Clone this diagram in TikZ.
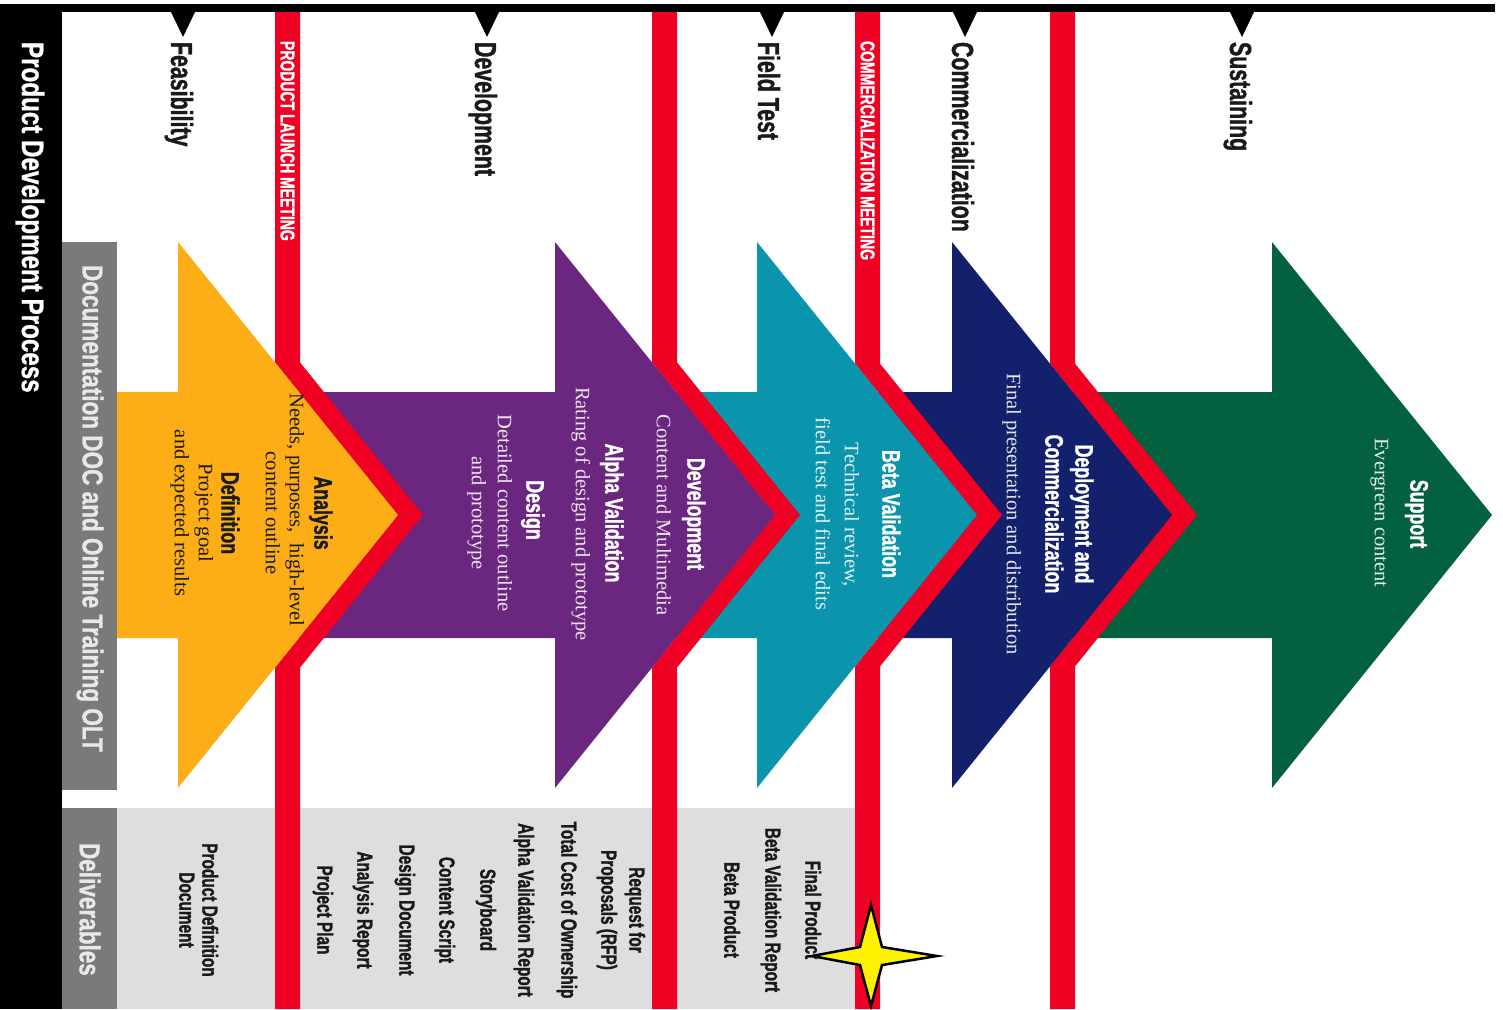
\documentclass[tikz,border=0pt]{standalone}
\usepackage{fontspec}
\setmainfont{Liberation Serif}
\newfontfamily\condA{Liberation Sans}[FakeStretch=0.7, FakeBold=1.2]
\newfontfamily\condB{Liberation Sans}[FakeStretch=0.78, FakeBold=1]
\definecolor{cyel}{HTML}{FDAE17}
\definecolor{cpur}{HTML}{6B267F}
\definecolor{ctea}{HTML}{0A95AD}
\definecolor{cnav}{HTML}{13206B}
\definecolor{cgre}{HTML}{046140}
\definecolor{cred}{HTML}{F00022}
\definecolor{cgry}{HTML}{7A7A7A}
\definecolor{cpan}{HTML}{DEDEDE}
\definecolor{cink}{HTML}{1A1A1A}
% arrow: colour, body start x, head base x
\newcommand\chevarrow[3]{%
  \fill[#1] (#2,392) -- (#3,392) -- (#3,242) -- ++(220,273) -- (#3,788) -- (#3,638) -- (#2,638) -- cycle;}
% red meeting band: left x, tip x of the arrow to its left
\newcommand\redband[2]{%
  \pgfmathsetmacro\rbA{515-(#2-#1)/220*273}%
  \pgfmathsetmacro\rbB{515+(#2-#1)/220*273}%
  \fill[cred] (#1,12) -- (#1,\rbA) -- (#2,515) -- (#1,\rbB) -- (#1,1009) -- ({#1+25},1009) -- ({#1+25},\rbB) -- ({#2+25},515) -- ({#1+25},\rbA) -- ({#1+25},12) -- cycle;}
\newcommand\phasetri[1]{%
  \fill[black] ({#1-12.5},11) -- ({#1+12.5},11) -- (#1,37) -- cycle;}
\begin{document}
\begin{tikzpicture}[x=1pt,y=-1pt,
  mrot/.style={rotate=-90, inner sep=0pt, outer sep=0pt},
  mtitle/.style={mrot, anchor=west, text=white, font=\condB\bfseries\fontsize{31}{36}\selectfont},
  mbarlbl/.style={mrot, anchor=west, text=black!9, font=\condB\bfseries\fontsize{28.9}{34}\selectfont},
  mphase/.style={mrot, anchor=base west, text=cink, font=\condA\bfseries\fontsize{30.5}{35}\selectfont},
  mmeet/.style={mrot, anchor=west, text=white, font=\condA\bfseries\fontsize{20}{24}\selectfont},
  mhead/.style={mrot, font=\condA\bfseries\fontsize{25.5}{30}\selectfont, text height=19pt, text depth=5.5pt},
  mdesc/.style={mrot, font=\fontsize{20.5}{24}\selectfont, text height=15pt, text depth=4.5pt},
  mdeliv/.style={mrot, text=cink, font=\condA\bfseries\fontsize{22}{26}\selectfont, text height=16pt, text depth=4.5pt},
  mstar/.style={fill=yellow, draw=black, line width=2.5pt, line join=miter}
]
\useasboundingbox (0,0) rectangle (1503,1009);
\fill[white] (0,0) rectangle (1503,1009);
% deliverables panel
\fill[cpan] (117,808) rectangle (855,1009);
% arrows and meeting bands, right to left
\chevarrow{cgre}{952}{1272}
\redband{1050}{1172}
\chevarrow{cnav}{757}{952}
\redband{855}{977}
\chevarrow{ctea}{555}{757}
\redband{652}{775}
\chevarrow{cpur}{178}{555}
\redband{275}{398}
\chevarrow{cyel}{117}{178}
% grey side bars
\fill[cgry] (62,242) rectangle (117,790);
\fill[cgry] (62,808) rectangle (117,1009);
% black frame
\fill[black] (0,4) rectangle (62,1009);
\fill[black] (0,4) rectangle (1495,12);
% phase markers
\phasetri{183}
\phasetri{487}
\phasetri{772}
\phasetri{965}
\phasetri{1242}
% side texts
\node[mtitle] (title) at (30,42) {Product Development Process};
\node[mbarlbl] (doclbl) at (90,265) {Documentation DOC and Online Training OLT};
\node[mbarlbl] (dellbl) at (90,843) {Deliverables};
% phase labels
\node[mphase] (pfeas) at (171,42) {Feasibility};
\node[mphase] (pdev) at (475,42) {Development};
\node[mphase] (pfield) at (758,42) {Field Test};
\node[mphase] (pcomm) at (952,42) {Commercialization};
\node[mphase] (psust) at (1230,42) {Sustaining};
% meeting labels
\node[mmeet] (mlaunch) at (287.5,41) {PRODUCT LAUNCH MEETING};
\node[mmeet] (mcomm) at (867.5,41) {COMMERCIALIZATION MEETING};
% yellow arrow text
\node[mhead, text=cink] (t1) at (321,513) {Analysis};
\node[mdesc, text=cink] (t2) at (295,510) {Needs, purposes, \ high-level};
\node[mdesc, text=cink] (t3) at (271,513) {content outline};
\node[mhead, text=cink] (t4) at (228,513) {Definition};
\node[mdesc, text=cink] (t5) at (204,513) {Project goal};
\node[mdesc, text=cink] (t6) at (180,513) {and expected results};
% purple arrow text
\node[mhead, text=white] (u1) at (694,514) {Development};
\node[mdesc, text=white!88!cpur] (u2) at (662,515) {Content and Multimedia};
\node[mhead, text=white] (u3) at (612,513) {Alpha Validation};
\node[mdesc, text=white!88!cpur] (u4) at (581,514) {Rating of design and prototype};
\node[mhead, text=white] (u5) at (533,510) {Design};
\node[mdesc, text=white!88!cpur] (u6) at (503,513) {Detailed content outline};
\node[mdesc, text=white!88!cpur] (u7) at (477,513) {and prototype};
% teal arrow text
\node[mhead, text=white] (v1) at (889,514) {Beta Validation};
\node[mdesc, text=white!88!ctea] (v2) at (850,515) {Technical review,};
\node[mdesc, text=white!88!ctea] (v3) at (821,514) {field test and final edits};
% navy arrow text
\node[mhead, text=white] (w1) at (1082,514) {Deployment and};
\node[mhead, text=white] (w2) at (1052,514) {Commercialization};
\node[mdesc, text=white!88!cnav] (w3) at (1012,514) {Final presentation and distribution};
% green arrow text
\node[mhead, text=white] (g1) at (1417,514) {Support};
\node[mdesc, text=white!88!cgre] (g2) at (1380,513) {Evergreen content};
% deliverables
\node[mdeliv] (d1) at (208,910) {Product Definition};
\node[mdeliv] (d2) at (185,910) {Document};
\node[mdeliv] (d3) at (635,910) {Request for};
\node[mdeliv] (d4) at (607,910) {Proposals (RFP)};
\node[mdeliv] (d5) at (567,910) {Total Cost of Ownership};
\node[mdeliv] (d6) at (524,910) {Alpha Validation Report};
\node[mdeliv] (d7) at (486,910) {Storyboard};
\node[mdeliv] (d8) at (445,910) {Content Script};
\node[mdeliv] (d9) at (405,910) {Design Document};
\node[mdeliv] (d10) at (363,910) {Analysis Report};
\node[mdeliv] (d11) at (323,910) {Project Plan};
\node[mdeliv] (d12) at (811,910) {Final Product};
\node[mdeliv] (d13) at (771,910) {Beta Validation Report};
\node[mdeliv] (d14) at (730,910) {Beta Product};
% star
\draw[mstar] (871,905) -- (882,947) -- (937,956) -- (882,965) -- (871,1006) -- (860,965) -- (812,956) -- (860,947) -- cycle;
\end{tikzpicture}
\end{document}
